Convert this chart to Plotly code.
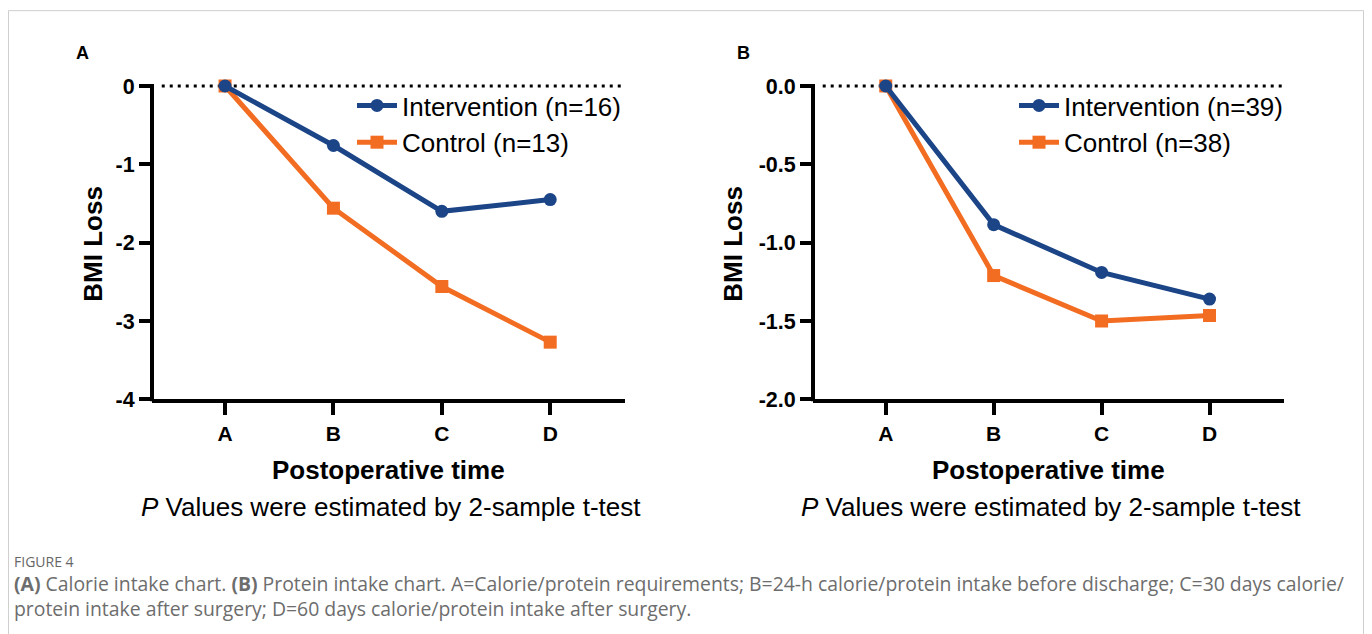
import plotly.graph_objects as go

# target picture size; the page's default body margin holds the figure inside it.
W, H = 1372, 634
OFF = 8
VIEW_H = 646            # rendering height observed for the photographed page
SY = VIEW_H / H         # vertical factor between picture pixels and page pixels
FIG_W, FIG_H = W - 2 * OFF, VIEW_H - 2 * OFF

# ---------------- data ----------------
categories = ["A", "B", "C", "D"]

a_intervention = [0, -0.76, -1.60, -1.45]
a_control = [0, -1.56, -2.56, -3.27]
b_intervention = [0, -0.885, -1.19, -1.36]
b_control = [0, -1.21, -1.50, -1.465]

a_names = ["Intervention (n=16)", "Control (n=13)"]
b_names = ["Intervention (n=39)", "Control (n=38)"]

a_yticks = [0, -1, -2, -3, -4]
a_yticklabels = ["0", "-1", "-2", "-3", "-4"]
b_yticks = [0, -0.5, -1.0, -1.5, -2.0]
b_yticklabels = ["0.0", "-0.5", "-1.0", "-1.5", "-2.0"]

panel_labels = ["A", "B"]
x_title = "Postoperative time"
y_title = "BMI Loss"
subtitle = "<i>P</i> Values were estimated by 2-sample t-test"
fig_label = "FIGURE 4"
caption = ("<b>(A)</b> Calorie intake chart. <b>(B)</b> Protein intake chart. "
           "A=Calorie/protein requirements; B=24-h calorie/protein intake before discharge; "
           "C=30 days calorie/<br>"
           "protein intake after surgery; D=60 days calorie/protein intake after surgery.")

# ---------------- style ----------------
BLUE = "#1c4587"
ORANGE = "#f26c21"
FONT = "Liberation Sans, Arial, Helvetica, sans-serif"
CAP_FONT = "Open Sans, Noto Sans, sans-serif"

# layout positions (picture pixels)
PX_A = (152, 625)
PX_B = (813, 1284)
PX_BOTTOM, PX_ZERO = 400, 86
X_RANGE = [-0.674, 3.69]
TOP_PAD = 0.0375  # fraction of y span added above zero

xpos = list(range(len(categories)))

a_span = a_yticks[0] - a_yticks[-1]
b_span = b_yticks[0] - b_yticks[-1]
a_range = [a_yticks[-1], a_yticks[0] + TOP_PAD * a_span]
b_range = [b_yticks[-1], b_yticks[0] + TOP_PAD * b_span]


def fx(px):
    return (px - OFF) / FIG_W


def fy(px):
    return 1 - (px * SY - OFF) / FIG_H


top_px = PX_ZERO - TOP_PAD * (PX_BOTTOM - PX_ZERO)
y_dom = [fy(PX_BOTTOM), fy(top_px)]

fig = go.Figure()

panels = [
    ("x", "y", "legend", a_names, a_control, a_intervention),
    ("x2", "y2", "legend2", b_names, b_control, b_intervention),
]
for xa, ya, lg, names, ctrl, intv in panels:
    fig.add_trace(go.Scatter(
        x=xpos, y=ctrl, name=names[1], mode="lines+markers",
        line=dict(color=ORANGE, width=5),
        marker=dict(symbol="square", size=13, color=ORANGE),
        xaxis=xa, yaxis=ya, legend=lg, legendrank=2, cliponaxis=False,
    ))
    fig.add_trace(go.Scatter(
        x=xpos, y=intv, name=names[0], mode="lines+markers",
        line=dict(color=BLUE, width=5),
        marker=dict(symbol="circle", size=13, color=BLUE),
        xaxis=xa, yaxis=ya, legend=lg, legendrank=1, cliponaxis=False,
    ))

xcommon = dict(
    range=X_RANGE, tickvals=xpos, ticktext=categories,
    showline=True, linewidth=4, linecolor="black",
    ticks="outside", ticklen=12, tickwidth=4, tickcolor="black",
    showgrid=False, zeroline=False,
    tickfont=dict(family=FONT, size=21, color="black", weight="bold"),
)
ycommon = dict(
    domain=y_dom, showline=False,
    ticks="outside", ticklen=12, tickwidth=4, tickcolor="black",
    showgrid=False, zeroline=False,
    tickfont=dict(family=FONT, size=21.5, color="black", weight="bold"),
)

legend_common = dict(xanchor="left", yanchor="top", bgcolor="rgba(0,0,0,0)",
                     itemwidth=40, font=dict(family=FONT, size=26, color="black"))

fig.update_layout(
    width=FIG_W, height=FIG_H,
    margin=dict(l=0, r=0, t=0, b=0),
    paper_bgcolor="white", plot_bgcolor="white",
    xaxis=dict(domain=[fx(PX_A[0]), fx(PX_A[1])], anchor="y", **xcommon),
    yaxis=dict(range=a_range, tickvals=a_yticks, ticktext=a_yticklabels,
               anchor="x", **ycommon),
    xaxis2=dict(domain=[fx(PX_B[0]), fx(PX_B[1])], anchor="y2", **xcommon),
    yaxis2=dict(range=b_range, tickvals=b_yticks, ticktext=b_yticklabels,
                anchor="x2", **ycommon),
    legend=dict(x=fx(352), y=fy(82), **legend_common),
    legend2=dict(x=fx(1014), y=fy(82), **legend_common),
    showlegend=True,
)

shapes = []
# light frame around the figure (open at the bottom, beyond the window)
shapes.append(dict(type="rect", xref="paper", yref="paper",
                   x0=fx(8.5), x1=fx(1363.5), y0=fy(760), y1=fy(10.5),
                   line=dict(color="#cfcfcf", width=1), fillcolor="rgba(0,0,0,0)"))
for (pl, pr), xa, ya in [(PX_A, "x", "y"), (PX_B, "x2", "y2")]:
    # y axis line from bottom to zero
    shapes.append(dict(type="line", xref="paper", yref="paper",
                       x0=fx(pl), x1=fx(pl), y0=fy(PX_BOTTOM + 2), y1=fy(PX_ZERO - 2),
                       line=dict(color="black", width=4)))
    # dotted zero reference line
    shapes.append(dict(type="line", xref=xa, yref=ya, layer="below",
                       x0=X_RANGE[0] + 0.09, x1=X_RANGE[1], y0=0, y1=0,
                       line=dict(color="black", width=3, dash="3px,5px")))
fig.update_layout(shapes=shapes)

ann = []
for lbl, (pl, pr), ylab_x in [(panel_labels[0], PX_A, 93), (panel_labels[1], PX_B, 733)]:
    ann.append(dict(text=f"<b>{lbl}</b>", x=fx(pl - 70), y=fy(53), xref="paper", yref="paper",
                    showarrow=False, xanchor="center", yanchor="middle",
                    font=dict(family=FONT, size=18, color="black")))
    ann.append(dict(text=f"<b>{y_title}</b>", x=fx(ylab_x), y=fy(244), xref="paper", yref="paper",
                    showarrow=False, textangle=-90, xanchor="center", yanchor="middle",
                    font=dict(family=FONT, size=26, color="black")))
    cx = (pl + pr) / 2
    ann.append(dict(text=f"<b>{x_title}</b>", x=fx(cx), y=fy(471), xref="paper", yref="paper",
                    showarrow=False, xanchor="center", yanchor="middle",
                    font=dict(family=FONT, size=26, color="black")))
    ann.append(dict(text=subtitle, x=fx(cx + 2), y=fy(508), xref="paper", yref="paper",
                    showarrow=False, xanchor="center", yanchor="middle",
                    font=dict(family=FONT, size=26, color="black")))

ann.append(dict(text=fig_label, x=fx(12), y=fy(563), xref="paper", yref="paper",
                showarrow=False, xanchor="left", yanchor="middle",
                font=dict(family=CAP_FONT, size=14, color="#666666")))
ann.append(dict(text=caption, x=fx(12), y=fy(597.5), xref="paper", yref="paper",
                showarrow=False, xanchor="left", yanchor="middle", align="left",
                font=dict(family=CAP_FONT, size=19.4, color="#6d6d6d")))
fig.update_layout(annotations=ann)

fig.write_html("out.html")
